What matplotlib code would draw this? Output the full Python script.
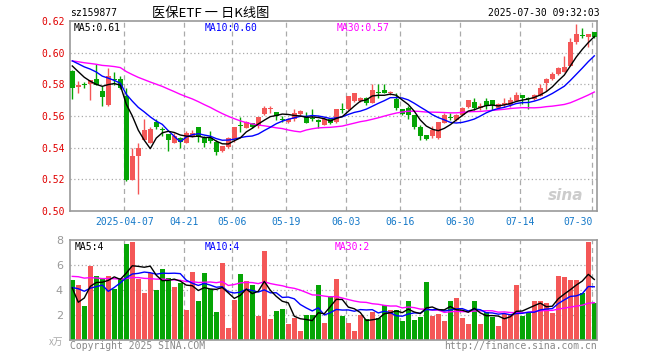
import numpy as np
import pandas as pd
import matplotlib
matplotlib.use("Agg")
import matplotlib.pyplot as plt

# ---- data (daily K line, 2025-03-24 .. 2025-07-30) ----
opens = [0.5885, 0.5785, 0.5802, 0.5801, 0.5835, 0.5755, 0.5668, 0.5835, 0.5835, 0.5728,
         0.5195, 0.5348, 0.5446, 0.5427, 0.5561, 0.5517, 0.5484, 0.5427, 0.5459, 0.5432,
         0.5474, 0.5528, 0.5459, 0.5461, 0.5438, 0.5379, 0.5402, 0.5453, 0.5540, 0.5526,
         0.5554, 0.5537, 0.5611, 0.5645, 0.5623, 0.5577, 0.5562, 0.5579, 0.5613, 0.5592,
         0.5587, 0.5575, 0.5543, 0.5579, 0.5564, 0.5643, 0.5642, 0.5697, 0.5697, 0.5712,
         0.5680, 0.5751, 0.5764, 0.5745, 0.5705, 0.5642, 0.5648, 0.5606, 0.5533, 0.5480,
         0.5474, 0.5463, 0.5558, 0.5594, 0.5575, 0.5606, 0.5659, 0.5690, 0.5648, 0.5695,
         0.5701, 0.5648, 0.5667, 0.5667, 0.5696, 0.5730, 0.5711, 0.5709, 0.5724, 0.5807,
         0.5835, 0.5864, 0.5881, 0.5918, 0.6065, 0.6109, 0.6100, 0.6132]
highs = [0.5890, 0.5818, 0.5812, 0.5829, 0.5929, 0.5787, 0.5902, 0.5877, 0.5854, 0.5776,
         0.5400, 0.5427, 0.5578, 0.5532, 0.5578, 0.5532, 0.5484, 0.5490, 0.5470, 0.5507,
         0.5512, 0.5528, 0.5474, 0.5505, 0.5448, 0.5411, 0.5465, 0.5528, 0.5592, 0.5570,
         0.5558, 0.5592, 0.5663, 0.5663, 0.5623, 0.5600, 0.5585, 0.5642, 0.5638, 0.5627,
         0.5642, 0.5579, 0.5596, 0.5585, 0.5642, 0.5680, 0.5726, 0.5747, 0.5718, 0.5718,
         0.5802, 0.5802, 0.5802, 0.5760, 0.5743, 0.5642, 0.5663, 0.5606, 0.5543, 0.5480,
         0.5537, 0.5560, 0.5617, 0.5621, 0.5613, 0.5659, 0.5701, 0.5712, 0.5680, 0.5712,
         0.5701, 0.5684, 0.5713, 0.5717, 0.5751, 0.5730, 0.5717, 0.5738, 0.5801, 0.5839,
         0.5876, 0.5912, 0.5981, 0.6094, 0.6184, 0.6157, 0.6115, 0.6132]
lows = [0.5710, 0.5745, 0.5774, 0.5700, 0.5797, 0.5661, 0.5661, 0.5797, 0.5770, 0.5190,
        0.5195, 0.5108, 0.5446, 0.5427, 0.5519, 0.5473, 0.5379, 0.5427, 0.5396, 0.5427,
        0.5465, 0.5438, 0.5406, 0.5432, 0.5354, 0.5373, 0.5396, 0.5438, 0.5501, 0.5522,
        0.5522, 0.5526, 0.5607, 0.5617, 0.5575, 0.5564, 0.5554, 0.5570, 0.5607, 0.5554,
        0.5570, 0.5522, 0.5543, 0.5550, 0.5558, 0.5617, 0.5638, 0.5690, 0.5690, 0.5670,
        0.5680, 0.5712, 0.5743, 0.5733, 0.5638, 0.5607, 0.5579, 0.5516, 0.5448, 0.5448,
        0.5459, 0.5457, 0.5554, 0.5575, 0.5570, 0.5600, 0.5648, 0.5638, 0.5638, 0.5642,
        0.5638, 0.5642, 0.5654, 0.5654, 0.5692, 0.5675, 0.5646, 0.5703, 0.5724, 0.5759,
        0.5828, 0.5860, 0.5876, 0.5918, 0.6052, 0.6094, 0.6038, 0.6094]
closes = [0.5780, 0.5795, 0.5798, 0.5829, 0.5797, 0.5718, 0.5850, 0.5830, 0.5780, 0.5195,
          0.5348, 0.5400, 0.5511, 0.5515, 0.5530, 0.5513, 0.5448, 0.5473, 0.5436, 0.5495,
          0.5495, 0.5465, 0.5427, 0.5444, 0.5375, 0.5411, 0.5459, 0.5528, 0.5535, 0.5564,
          0.5528, 0.5592, 0.5648, 0.5648, 0.5600, 0.5573, 0.5579, 0.5617, 0.5632, 0.5558,
          0.5583, 0.5562, 0.5579, 0.5558, 0.5642, 0.5640, 0.5726, 0.5747, 0.5712, 0.5684,
          0.5764, 0.5747, 0.5747, 0.5749, 0.5648, 0.5613, 0.5606, 0.5533, 0.5474, 0.5457,
          0.5512, 0.5560, 0.5606, 0.5590, 0.5606, 0.5653, 0.5701, 0.5648, 0.5663, 0.5663,
          0.5670, 0.5674, 0.5682, 0.5703, 0.5730, 0.5713, 0.5707, 0.5734, 0.5780, 0.5835,
          0.5864, 0.5902, 0.5912, 0.6065, 0.6121, 0.6105, 0.6115, 0.6100]
# volume in 万 (10k) shares
volumes = [4.80, 4.40, 2.70, 5.95, 5.15, 4.90, 5.15, 4.10, 4.95, 7.65,
           7.85, 4.90, 3.75, 5.40, 4.00, 5.70, 5.00, 4.25, 4.60, 2.40,
           5.45, 3.10, 5.40, 4.05, 2.25, 6.20, 0.95, 3.20, 5.25, 4.75,
           4.40, 1.90, 7.15, 1.70, 2.30, 2.45, 1.25, 1.80, 0.70, 2.00,
           2.00, 4.40, 1.40, 3.55, 4.90, 1.95, 1.36, 0.75, 2.03, 1.70,
           2.24, 1.76, 2.77, 2.43, 2.43, 1.55, 3.15, 1.63, 1.81, 4.67,
           1.95, 2.08, 1.55, 3.15, 3.36, 1.76, 1.28, 3.15, 1.28, 2.24,
           1.81, 1.09, 2.08, 2.08, 4.40, 1.95, 2.16, 3.15, 3.09, 2.96,
           2.16, 5.15, 5.01, 4.83, 4.83, 3.76, 7.84, 2.96]

# sessions before the first visible candle, only used to seed the moving averages
prior_closes = [0.596, 0.598, 0.597, 0.595, 0.593, 0.594, 0.596, 0.597, 0.595, 0.592,
                0.593, 0.595, 0.596, 0.594, 0.593, 0.595, 0.596, 0.595, 0.594, 0.592,
                0.598, 0.599, 0.597, 0.598, 0.598, 0.5975, 0.5975, 0.5954, 0.5896]
prior_volumes = [5.2, 6.1, 4.8, 5.9, 6.4, 5.0, 4.6, 5.8, 6.3, 5.5,
                 4.9, 5.7, 6.0, 5.3, 5.6, 6.2, 5.1, 5.4, 5.7, 5.2,
                 5.4, 4.7, 3.5, 3.9, 3.7, 10.1, 1.0, 1.3, 3.6]

tick_idx = [9, 19, 27, 36, 46, 55, 65, 75, 87]
tick_labels = ["2025-04-07", "04-21", "05-06", "05-19", "06-03",
               "06-16", "06-30", "07-14", "07-30"]
price_ticks = [0.50, 0.52, 0.54, 0.56, 0.58, 0.60, 0.62]
vol_ticks = [2, 4, 6, 8]

RED = "#f45757"
GREEN = "#05a505"
GRID = "#aaaaaa"
MONO = "DejaVu Sans Mono"
CJK = ["Noto Sans CJK SC", "DejaVu Sans"]


def moving_averages(prior, values, windows=(5, 10, 30)):
    s = pd.Series(list(prior) + list(values))
    n = len(prior)
    return [s.rolling(w, min_periods=1).mean().to_numpy()[n:] for w in windows]


def frame(ax):
    for sp in ax.spines.values():
        sp.set_color("#999999")
        sp.set_linewidth(1.2)
    ax.tick_params(length=0)
    ax.set_xlim(-0.38, 87.45)
    for t in tick_idx:
        ax.axvline(t - 0.33, color=GRID, lw=0.9, ls=(0, (4, 3)), zorder=0)


o = np.array(opens)
h = np.array(highs)
l = np.array(lows)
c = np.array(closes)
v = np.array(volumes)
x = np.arange(len(c))
up = c >= o
colors = np.where(up, RED, GREEN)

fig = plt.figure(figsize=(6.6, 3.6), dpi=100)
ax = fig.add_axes([70 / 660, 1 - 211 / 360, 527 / 660, 190 / 360])
axv = fig.add_axes([70 / 660, 20 / 360, 527 / 660, 100 / 360])

# ---- price panel ----
frame(ax)
ax.set_ylim(0.50, 0.62)
for y in price_ticks[1:-1]:
    ax.axhline(y, color=GRID, lw=0.9, ls=(0, (1, 2)), zorder=0)
ax.vlines(x, l, h, colors=colors, lw=1.0, zorder=2)
body = np.maximum(np.abs(c - o), 0.0006)
ax.bar(x, body, bottom=np.minimum(o, c), width=0.8, color=colors, zorder=3)

ma5, ma10, ma30 = moving_averages(prior_closes, closes)
ax.plot(x, ma30, color="#ff00ff", lw=1.0, zorder=4)
ax.plot(x, ma10, color="#0000ff", lw=1.0, zorder=4)
ax.plot(x, ma5, color="black", lw=1.0, zorder=4)

ax.set_yticks(price_ticks)
ax.set_yticklabels([f"{p:.2f}" for p in price_ticks], color="#e00000",
                   family=MONO, fontsize=7)
ax.tick_params(axis="y", pad=4)
ax.set_xticks([t - 0.33 for t in tick_idx])
ax.set_xticklabels(tick_labels, color="#1478c8", family=MONO, fontsize=7)
ax.get_xticklabels()[-1].set_ha("right")
ax.tick_params(axis="x", pad=4)

ax.text(0.006, 0.965, "MA5:0.61", transform=ax.transAxes, family=MONO,
        fontsize=7, va="center", color="black")
ax.text(0.256, 0.965, "MA10:0.60", transform=ax.transAxes, family=MONO,
        fontsize=7, va="center", color="#0000ff")
ax.text(0.506, 0.965, "MA30:0.57", transform=ax.transAxes, family=MONO,
        fontsize=7, va="center", color="#ff00ff")
ax.text(0.975, 0.08, "sina", transform=ax.transAxes, fontsize=11,
        fontweight="bold", style="italic", color="#cccccc", ha="right",
        va="center", zorder=1)

# ---- volume panel ----
frame(axv)
axv.set_ylim(0, 8)
for y in vol_ticks[:-1]:
    axv.axhline(y, color=GRID, lw=0.9, ls=(0, (1, 2)), zorder=0)
axv.bar(x, v, width=0.85, color=colors, zorder=2)
vma5, vma10, vma30 = moving_averages(prior_volumes, volumes)
axv.plot(x, vma30, color="#ff00ff", lw=1.0, zorder=3)
axv.plot(x, vma10, color="#0000ff", lw=1.0, zorder=3)
axv.plot(x, vma5, color="black", lw=1.0, zorder=3)
axv.set_xticks([])
axv.set_yticks(vol_ticks)
axv.set_yticklabels([str(t) for t in vol_ticks], color="#999999", fontsize=8)
axv.tick_params(axis="y", pad=5)

axv.text(0.008, 0.93, "MA5:4", transform=axv.transAxes, family=MONO,
         fontsize=7, va="center", color="black")
axv.text(0.256, 0.93, "MA10:4", transform=axv.transAxes, family=MONO,
         fontsize=7, va="center", color="#0000ff")
axv.text(0.503, 0.93, "MA30:2", transform=axv.transAxes, family=MONO,
         fontsize=7, va="center", color="#ff00ff")

# ---- header / footer ----
fig.text(70 / 660, 1 - 13 / 360, "sz159877", family=MONO, fontsize=7, va="center")
fig.text(211 / 660, 1 - 13 / 360, "医保ETF 一 日K线图", family=CJK, fontsize=9.5,
         va="center", ha="center")
fig.text(600 / 660, 1 - 13 / 360, "2025-07-30 09:32:03", family=MONO, fontsize=7,
         va="center", ha="right")
fig.text(63 / 660, 1 - 342 / 360, "x万", family=CJK, fontsize=7, color="#aaaaaa",
         style="italic", va="center", ha="right")
fig.text(70 / 660, 1 - 346 / 360, "Copyright 2025 SINA.COM", family=MONO, fontsize=7,
         color="#888888", va="center")
fig.text(597 / 660, 1 - 346 / 360, "http://finance.sina.com.cn", family=MONO,
         fontsize=7, color="#888888", va="center", ha="right")

fig.savefig("out.png", dpi=100)
